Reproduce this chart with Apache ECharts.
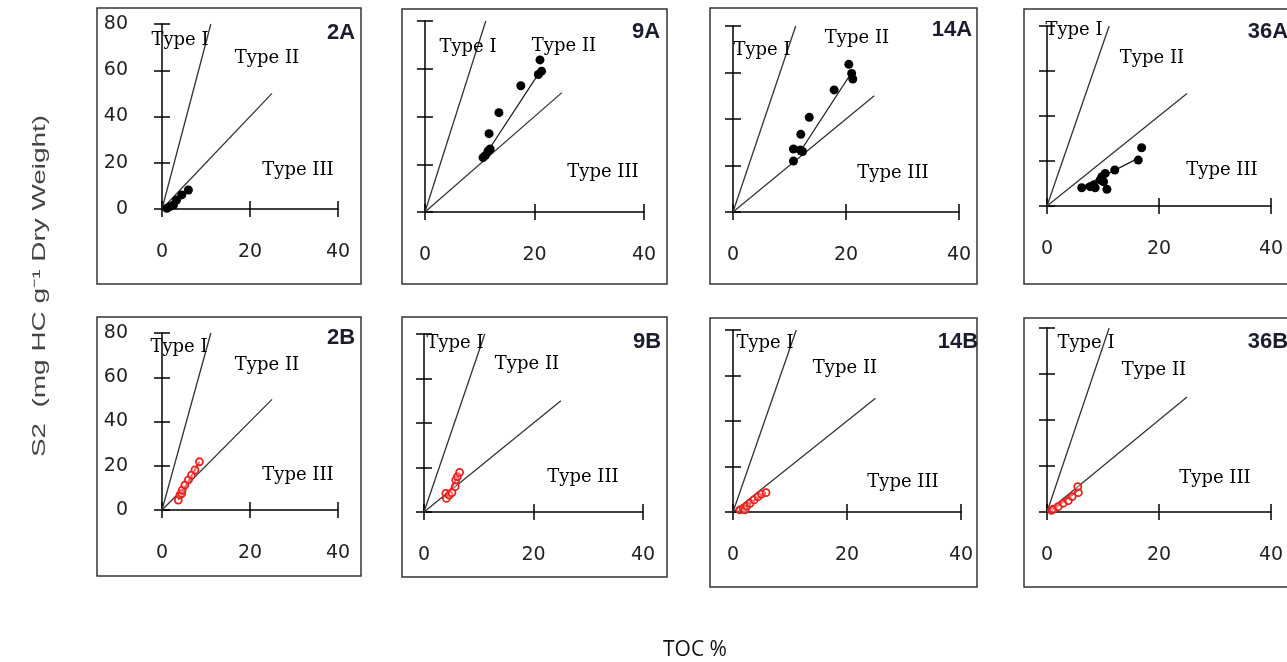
<!DOCTYPE html>
<html>
<head>
<meta charset="utf-8">
<script src="https://cdn.jsdelivr.net/npm/echarts@6/dist/echarts.min.js"></script>
<style>html,body{margin:0;padding:0;background:#fff;}#c{width:1287px;height:662px;}</style>
</head>
<body>
<div id="c"></div>
<script>
// ---- data ----
const panels = ['2A', '9A', '14A', '36A', '2B', '9B', '14B', '36B'];
const xTicks = [0, 20, 40];
const yTicks = [0, 20, 40, 60, 80];
const typeILine = [[0, 0], [11.1, 80]];
const typeIIILine = [[0, 0], [25, 50]];
const typeLabels = ['Type I', 'Type II', 'Type III'];
const xTitle = 'TOC %';
const yTitle = 'S2  (mg HC g\u207B\u00B9 Dry Weight)';

const pts2A = [[1.1, 0.3], [1.8, 1.0], [2.6, 1.7], [3.3, 3.9], [4.5, 6.1], [6.0, 8.2]];
const pts9A = [[10.6, 22.8], [11.0, 23.6], [11.5, 25.5], [11.9, 26.4], [11.7, 32.8], [13.5, 41.6], [17.5, 52.9], [20.7, 57.6], [21.3, 59.0], [21.0, 63.7]];
const pts14A = [[10.7, 21.9], [10.7, 27.1], [11.9, 26.7], [12.3, 26.0], [12.0, 33.4], [13.5, 40.7], [17.9, 52.5], [21.2, 57.2], [21.0, 59.6], [20.5, 63.5]];
const pts36A = [[6.2, 8.1], [7.7, 8.6], [8.3, 9.3], [8.6, 8.1], [9.5, 11.6], [9.8, 13.0], [10.1, 10.8], [10.4, 14.5], [10.7, 7.4], [12.1, 16.0], [16.3, 20.4], [16.9, 25.9]];
const pts2B = [[3.7, 4.5], [4.1, 6.8], [4.5, 7.5], [4.6, 9.0], [5.2, 11.3], [6.0, 13.6], [6.7, 15.8], [7.5, 18.1], [8.5, 21.8]];
const pts9B = [[4.0, 8.4], [4.1, 6.1], [4.6, 7.6], [5.1, 8.7], [5.7, 11.4], [5.8, 14.4], [6.1, 15.9], [6.5, 17.8]];
const pts14B = [[1.2, 0.9], [1.8, 1.6], [2.1, 0.9], [2.4, 2.6], [3.0, 3.8], [3.7, 5.3], [4.4, 6.7], [5.0, 7.9], [5.8, 8.5]];
const pts36B = [[0.8, 0.7], [1.1, 1.2], [2.0, 2.3], [2.9, 3.8], [3.8, 4.9], [4.5, 6.7], [5.6, 8.4], [5.5, 11.0]];

const trend2A = [[1.0, 0.2], [6.2, 8.4]];
const trend9A = [[11.2, 24.5], [21.2, 59.5]];
const trend14A = [[11.5, 24.5], [21.0, 60.0]];
const trend36A = [[6.5, 8.8], [16.5, 21.5]];
const trend2B = [[3.7, 4.5], [8.5, 21.8]];
const trend9B = [[4.1, 6.5], [6.5, 17.5]];
const trend14B = [[1.0, 0.5], [5.8, 8.5]];
const trend36B = [[0.8, 0.7], [5.6, 9.5]];

const pointSets = [pts2A, pts9A, pts14A, pts36A, pts2B, pts9B, pts14B, pts36B];
const trendSets = [trend2A, trend9A, trend14A, trend36A, trend2B, trend9B, trend14B, trend36B];

// ---- layout ----
const grids = [
  {left: 162, top: 24, width: 176, height: 185},
  {left: 425, top: 21, width: 219, height: 191},
  {left: 733, top: 26, width: 226, height: 186},
  {left: 1047, top: 26, width: 224, height: 180},
  {left: 162, top: 333, width: 176, height: 177},
  {left: 424, top: 334, width: 219, height: 178},
  {left: 733, top: 330, width: 228, height: 182},
  {left: 1047, top: 328, width: 224, height: 184}
];
const boxes = [
  [97, 8, 264, 276], [402, 9, 265, 275], [710, 8, 267, 276], [1024, 9, 270, 275],
  [97, 317, 264, 259], [402, 317, 265, 260], [710, 318, 267, 269], [1024, 318, 270, 269]
];
// [TypeI, TypeII, TypeIII, tag] centre positions
const labelPos = [
  [[180, 40], [267, 58], [298, 170], [341, 33]],
  [[468, 47], [564, 46], [603, 172], [646, 32]],
  [[762, 50], [857, 38], [893, 173], [952, 30]],
  [[1074, 30], [1152, 58], [1222, 170], [1268, 32]],
  [[179, 347], [267, 365], [298, 475], [341, 338]],
  [[455, 343], [527, 364], [583, 477], [647, 342]],
  [[765, 343], [845, 368], [903, 482], [958, 342]],
  [[1086, 343], [1154, 370], [1215, 478], [1268, 342]]
];

const axisColor = '#000';
const xAxes = [], yAxes = [], series = [], graphics = [];

panels.forEach((name, i) => {
  const showY = (i === 0 || i === 4);
  const isB = i >= 4;
  const xMin = xTicks[0], xMax = xTicks[xTicks.length - 1], xInt = xTicks[1] - xTicks[0];
  const yMin = yTicks[0], yMax = yTicks[yTicks.length - 1], yInt = yTicks[1] - yTicks[0];
  const tick = {show: true, length: 8, lineStyle: {color: axisColor, width: 1.5}};
  xAxes.push({
    gridIndex: i, type: 'value', position: 'bottom', min: xMin, max: xMax, interval: xInt,
    axisLine: {show: true, onZero: false, lineStyle: {color: axisColor, width: 1.5}},
    axisTick: tick,
    axisLabel: {show: true, margin: 34, fontSize: 19, color: '#222', fontFamily: 'DejaVu Sans'},
    splitLine: {show: false}
  });
  xAxes.push({
    gridIndex: i, type: 'value', position: 'bottom', offset: 0, min: xMin, max: xMax, interval: xInt,
    axisLine: {show: false}, axisTick: Object.assign({}, tick, {inside: true}),
    axisLabel: {show: false}, splitLine: {show: false}
  });
  yAxes.push({
    gridIndex: i, type: 'value', position: 'left', min: yMin, max: yMax, interval: yInt,
    axisLine: {show: true, onZero: false, lineStyle: {color: axisColor, width: 1.5}},
    axisTick: tick,
    axisLabel: {show: showY, margin: 34, fontSize: 19, color: '#222', fontFamily: 'DejaVu Sans'},
    splitLine: {show: false}
  });
  yAxes.push({
    gridIndex: i, type: 'value', position: 'left', offset: 0, min: yMin, max: yMax, interval: yInt,
    axisLine: {show: false}, axisTick: Object.assign({}, tick, {inside: true}),
    axisLabel: {show: false}, splitLine: {show: false}
  });
  const xi = 2 * i, yi = 2 * i;
  [typeILine, typeIIILine].forEach(d => series.push({
    type: 'line', xAxisIndex: xi, yAxisIndex: yi, data: d, symbol: 'none', silent: true,
    lineStyle: {color: '#333', width: 1.3}
  }));
  series.push({
    type: 'line', xAxisIndex: xi, yAxisIndex: yi, data: trendSets[i], symbol: 'none', silent: true,
    lineStyle: {color: isB ? '#e8201c' : '#111', width: isB ? 2 : 1.2}, z: 3
  });
  series.push({
    type: 'scatter', xAxisIndex: xi, yAxisIndex: yi, data: pointSets[i], silent: true,
    symbol: 'circle', symbolSize: isB ? 7 : 9,
    itemStyle: isB ? {color: 'rgba(255,255,255,0.3)', borderColor: '#e8201c', borderWidth: 1.8, opacity: 1}
                   : {color: '#000', opacity: 1},
    z: 4
  });
  const b = boxes[i];
  graphics.push({type: 'rect', shape: {x: b[0], y: b[1], width: b[2], height: b[3]},
    style: {fill: 'none', stroke: '#333', lineWidth: 1.5}, z: 1, silent: true});
  const lp = labelPos[i];
  typeLabels.forEach((t, k) => graphics.push({
    type: 'text', x: lp[k][0], y: lp[k][1], z: 10, silent: true,
    style: {text: t, align: 'center', verticalAlign: 'middle', fill: '#000',
            font: '18px "DejaVu Serif"'}
  }));
  graphics.push({
    type: 'text', x: lp[3][0], y: lp[3][1], z: 10, silent: true,
    style: {text: name, align: 'center', verticalAlign: 'middle', fill: '#1c1c2e',
            font: 'bold 22px "Liberation Sans"'}
  });
});

graphics.push({
  type: 'text', x: 40, y: 286, rotation: Math.PI / 2, scaleX: 1.55, scaleY: 1, silent: true,
  style: {text: yTitle, align: 'center', verticalAlign: 'middle', fill: '#444',
          font: '18px "Liberation Sans"'}
});
graphics.push({
  type: 'text', x: 695, y: 650, silent: true,
  style: {text: xTitle, align: 'center', verticalAlign: 'middle', fill: '#111',
          font: '21px "Open Sans"'}
});

const chart = echarts.init(document.getElementById('c'), null, {renderer: 'canvas'});
chart.setOption({
  animation: false,
  backgroundColor: '#fff',
  grid: grids.map(g => Object.assign({containLabel: false}, g)),
  xAxis: xAxes,
  yAxis: yAxes,
  series: series,
  graphic: graphics
});
</script>
</body>
</html>
